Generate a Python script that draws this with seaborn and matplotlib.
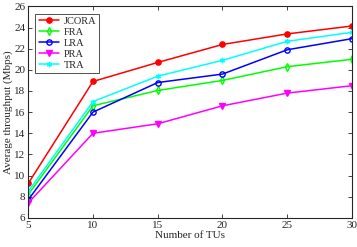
import matplotlib
matplotlib.use('Agg')
import matplotlib.pyplot as plt
import seaborn as sns
import pandas as pd

# number of TUs
num_tus = [5, 10, 15, 20, 25, 30]

# average throughput (Mbps) per scheme
jcora = [9.25, 18.9, 20.7, 22.4, 23.4, 24.15]
fra = [8.2, 16.6, 18.05, 19.0, 20.3, 21.0]
lra = [7.7, 16.0, 18.8, 19.6, 21.9, 22.95]
pra = [7.4, 14.0, 14.9, 16.6, 17.8, 18.5]
tra = [8.5, 17.0, 19.4, 20.9, 22.7, 23.55]

names = ['JCORA', 'FRA', 'LRA', 'PRA', 'TRA']
series = [jcora, fra, lra, pra, tra]
colors = ['#ff0000', '#00ff00', '#0000ff', '#ff00ff', '#00ffff']
markers = ['o', 'd', 'o', 'v', (6, 2, 0)]
filled = [True, False, False, True, False]

df = pd.DataFrame({'TUs': num_tus * len(names),
                   'thr': sum(series, []),
                   'scheme': sum([[n] * len(num_tus) for n in names], [])})

sns.set_style('ticks')
plt.rcParams['font.family'] = ['Liberation Serif', 'DejaVu Serif']

fig = plt.figure(figsize=(3.57, 2.47), dpi=100)
ax = fig.add_axes([0.079, 0.118, 0.907, 0.856])

for name, c, m, f in zip(names, colors, markers, filled):
    sub = df[df.scheme == name]
    sns.lineplot(data=sub, x='TUs', y='thr', ax=ax, color=c, marker=m,
                 markersize=3.8 if m != 'v' else 4.5, linewidth=1.1,
                 markerfacecolor=c if f else 'none', markeredgecolor=c,
                 markeredgewidth=1.0, label=name)

ax.set_xlim(5, 30)
ax.set_ylim(6, 26)
ax.set_xticks(num_tus)
ax.set_yticks(range(6, 27, 2))
ax.tick_params(direction='in', top=True, right=True, labelsize=8, length=3,
               width=0.6, pad=2)
for s in ax.spines.values():
    s.set_linewidth(0.8)
ax.set_xlabel('Number of TUs', fontsize=8, labelpad=1)
ax.set_ylabel('Average throughput (Mbps)', fontsize=8, labelpad=1)

leg = ax.legend(loc='upper left', fontsize=7.5, frameon=True, fancybox=False,
                edgecolor='black', borderaxespad=0.7, handlelength=2.0,
                labelspacing=0.15, borderpad=0.3, handletextpad=0.4)
leg.get_frame().set_linewidth(0.6)

fig.savefig('out.png', dpi=100)
